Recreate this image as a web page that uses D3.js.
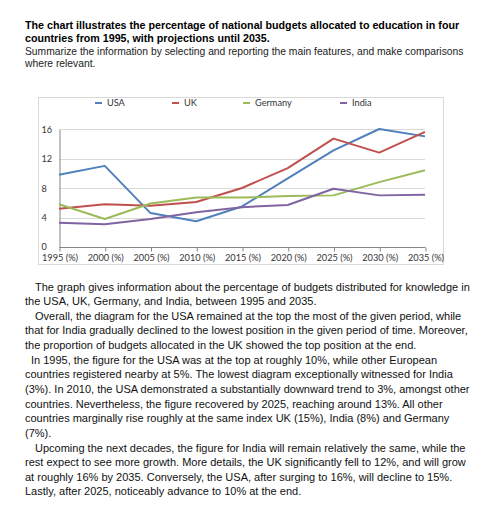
<!DOCTYPE html>
<html>
<head>
<meta charset="utf-8">
<script src="https://cdn.jsdelivr.net/npm/d3@7"></script>
<style>
    body { margin: 0; background: #fff; }
    .title { font-family: "Liberation Sans", Arial, sans-serif; font-size: 10.7px; fill: #000; }
    .prompt { font-size: 10.3px; fill: #222; }
    .body { font-family: "Liberation Sans", Arial, sans-serif; font-size: 11px; fill: #111; }
    .chartText { font-family: Lato, "Open Sans", sans-serif; font-size: 9.2px; fill: #333; }
    .grid line { stroke: #d9d9d9; stroke-width: 1; }
    .axis path, .axis line { stroke: #868686; }
</style>
</head>
<body>
<script>
(function() {

    //chart data
    var years = ["1995", "2000", "2005", "2010", "2015", "2020", "2025", "2030", "2035"];
    var countries = ["USA", "UK", "Germany", "India"];
    var usa = [9.8, 11.0, 4.6, 3.5, 5.5, 9.3, 13.1, 16.0, 15.0];
    var uk = [5.2, 5.8, 5.6, 6.1, 8.0, 10.7, 14.7, 12.8, 15.6];
    var germany = [5.8, 3.8, 5.9, 6.7, 6.7, 6.9, 7.0, 8.8, 10.4];
    var india = [3.3, 3.1, 3.8, 4.7, 5.4, 5.7, 7.9, 7.0, 7.1];
    var yTicks = [0, 4, 8, 12, 16];

    var colors = ["#4f81bd", "#c0504d", "#9bbb59", "#8064a2"];
    var seriesValues = [usa, uk, germany, india];

    //text
    var titleLines = [
        "The chart illustrates the percentage of national budgets allocated to education in four",
        "countries from 1995, with projections until 2035."
    ];
    var promptLines = [
        "Summarize the information by selecting and reporting the main features, and make comparisons",
        "where relevant."
    ];
    var essayLines = [
        ["The graph gives information about the percentage of budgets distributed for knowledge in", 10],
        ["the USA, UK, Germany, and India, between 1995 and 2035.", 0],
        ["Overall, the diagram for the USA remained at the top the most of the given period, while", 10],
        ["that for India gradually declined to the lowest position in the given period of time. Moreover,", 0],
        ["the proportion of budgets allocated in the UK showed the top position at the end.", 0],
        ["In 1995, the figure for the USA was at the top at roughly 10%, while other European", 6],
        ["countries registered nearby at 5%. The lowest diagram exceptionally witnessed for India", 0],
        ["(3%). In 2010, the USA demonstrated a substantially downward trend to 3%, amongst other", 0],
        ["countries. Nevertheless, the figure recovered by 2025, reaching around 13%. All other", 0],
        ["countries marginally rise roughly at the same index UK (15%), India (8%) and Germany", 0],
        ["(7%).", 0],
        ["Upcoming the next decades, the figure for India will remain relatively the same, while the", 10],
        ["rest expect to see more growth. More details, the UK significantly fell to 12%, and will grow", 0],
        ["at roughly 16% by 2035. Conversely, the USA, after surging to 16%, will decline to 15%.", 0],
        ["Lastly, after 2025, noticeably advance to 10% at the end.", 0]
    ];

    var width = 502, height = 512;

    var svg = d3.select("body")
        .append("svg")
        .attr("width", width)
        .attr("height", height);

    //question text
    svg.selectAll(".heading")
        .data(titleLines)
        .enter()
        .append("text")
        .attr("class", "title heading")
        .attr("x", 25)
        .attr("y", (d, i) => 29 + i * 12.6)
        .style("font-weight", "bold")
        .text(d => d);

    svg.selectAll(".prompt")
        .data(promptLines)
        .enter()
        .append("text")
        .attr("class", "title prompt")
        .attr("x", 25)
        .attr("y", (d, i) => 55 + i * 12)
        .text(d => d);

    //chart frame
    svg.append("rect")
        .attr("x", 38.5)
        .attr("y", 97.5)
        .attr("width", 405)
        .attr("height", 167)
        .attr("fill", "#fff")
        .attr("stroke", "#d9d9d9");

    var xScale = d3.scalePoint()
        .domain(years)
        .range([59, 425]);

    var yScale = d3.scaleLinear()
        .domain([0, 16])
        .range([247, 129]);

    //horizontal gridlines
    svg.append("g")
        .attr("class", "grid")
        .selectAll("line")
        .data(yTicks.slice(1))
        .enter()
        .append("line")
        .attr("x1", 59)
        .attr("x2", 425)
        .attr("y1", d => Math.round(yScale(d)) + 0.5)
        .attr("y2", d => Math.round(yScale(d)) + 0.5);

    //y axis
    var yAxis = svg.append("g")
        .attr("class", "axis")
        .attr("transform", "translate(59.5,0.5)")
        .call(d3.axisLeft(yScale).tickValues(yTicks).tickSize(0).tickPadding(0));
    yAxis.selectAll("text")
        .attr("class", "chartText")
        .attr("x", -18)
        .attr("dy", d => d === 0 ? "0.2em" : "0.32em")
        .attr("text-anchor", "start");
    yAxis.attr("font-size", null).attr("font-family", null);

    //x axis
    var xAxis = svg.append("g")
        .attr("class", "axis")
        .attr("transform", "translate(0.5," + (Math.round(yScale(0)) + 0.5) + ")")
        .call(d3.axisBottom(xScale).tickSize(4).tickSizeOuter(0).tickFormat(d => d + " (%)"));
    xAxis.select(".domain").attr("d", "M59,0H425");
    xAxis.selectAll("text")
        .attr("class", "chartText")
        .attr("y", 7);
    xAxis.attr("font-size", null).attr("font-family", null);

    //lines
    var line = d3.line()
        .x((d, i) => xScale(years[i]))
        .y(d => yScale(d));

    svg.selectAll(".series")
        .data(seriesValues)
        .enter()
        .append("path")
        .attr("class", "series")
        .attr("d", d => line(d))
        .attr("fill", "none")
        .attr("stroke", (d, i) => colors[i])
        .attr("stroke-width", 2)
        .attr("stroke-linejoin", "round");

    //legend
    var legendX = [95, 172, 243, 340];
    var legend = svg.selectAll(".legend")
        .data(countries)
        .enter()
        .append("g")
        .attr("class", "legend")
        .attr("transform", (d, i) => "translate(" + legendX[i] + ",103)");
    legend.append("line")
        .attr("x1", 0)
        .attr("x2", 7)
        .attr("stroke", (d, i) => colors[i])
        .attr("stroke-width", 2);
    legend.append("text")
        .attr("class", "chartText")
        .attr("x", 12)
        .attr("dy", "0.35em")
        .text(d => d);

    //essay text
    svg.selectAll(".body")
        .data(essayLines)
        .enter()
        .append("text")
        .attr("class", "body")
        .attr("x", d => 25 + d[1])
        .attr("y", (d, i) => 290.5 + i * 14.64)
        .text(d => d[0]);

})();
</script>
</body>
</html>
